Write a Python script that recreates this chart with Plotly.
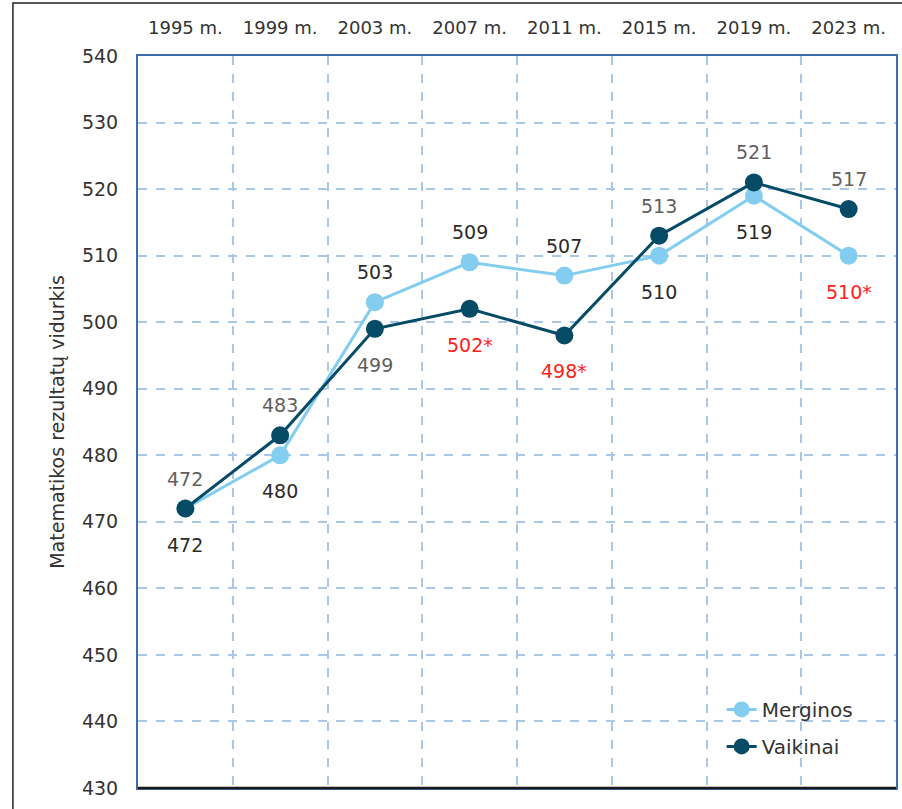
import plotly.graph_objects as go

years = ["1995 m.", "1999 m.", "2003 m.", "2007 m.", "2011 m.", "2015 m.", "2019 m.", "2023 m."]
merginos = [472, 480, 503, 509, 507, 510, 519, 510]
vaikinai = [472, 483, 499, 502, 498, 513, 521, 517]
merginos_sig = [False, False, False, False, False, False, False, True]
vaikinai_sig = [False, False, False, True, True, False, False, False]
y_ticks = list(range(430, 541, 10))

C_M = "#82cdf0"
C_V = "#054b66"
FONT = "DejaVu Sans"

fig = go.Figure()
fig.add_trace(go.Scatter(x=years, y=merginos, name="Merginos", mode="lines+markers", legendgroup="m",
                         line=dict(color=C_M, width=3), marker=dict(color=C_M, size=18)))
fig.add_trace(go.Scatter(x=years, y=vaikinai, name="Vaikinai", mode="lines+markers", legendgroup="v",
                         line=dict(color=C_V, width=3), marker=dict(color=C_V, size=18)))

for i, yr in enumerate(years):
    m, v = merginos[i], vaikinai[i]
    v_above = v >= m
    for val, sig, above, base in [(v, vaikinai_sig[i], v_above, "#5f5f5f"),
                                  (m, merginos_sig[i], not v_above, "#2a2a2a")]:
        fig.add_annotation(x=yr, y=val, text=f"{val}*" if sig else str(val),
                           showarrow=False, yshift=30 if above else -36,
                           font=dict(family=FONT, size=19, color="#ff2020" if sig else base))

# outer frame
fig.add_shape(type="rect", xref="paper", yref="paper", x0=-0.165, x1=1.03, y0=-0.1, y1=1.0725,
              line=dict(color="#222222", width=1.5), layer="below")
# bottom axis line (dark)
fig.add_shape(type="line", xref="paper", yref="paper", x0=0, x1=1, y0=0, y1=0,
              line=dict(color="#1a1a1a", width=2.5))

fig.update_layout(
    width=902, height=809,
    margin=dict(l=138, r=6, t=56, b=21, autoexpand=False),
    paper_bgcolor="white", plot_bgcolor="white",
    font=dict(family=FONT, color="#404040"),
    legend=dict(x=0.77, y=0.134, xanchor="left", yanchor="top", bgcolor="rgba(0,0,0,0)",
                tracegroupgap=8,
                font=dict(family=FONT, size=20, color="#333333")),
    showlegend=True,
)
fig.update_xaxes(type="category", side="top", tickson="boundaries", range=[-0.5, 7.5],
                 showgrid=True, gridcolor="#a9c8e8", griddash="dash", gridwidth=1.5,
                 showline=True, linecolor="#3d6eab", linewidth=2, mirror=True, automargin=False,
                 ticks="", tickfont=dict(family=FONT, size=18, color="#333333"), ticklabelstandoff=13)
fig.update_yaxes(range=[430, 540], tickvals=y_ticks, showgrid=True, gridcolor="#a9c8e8",
                 griddash="dash", gridwidth=1.5, zeroline=False, automargin=False,
                 showline=True, linecolor="#3d6eab", linewidth=2, mirror=True,
                 ticks="", tickfont=dict(family=FONT, size=19, color="#333333"), ticklabelstandoff=14,
                 title=dict(text="Matematikos rezultatų vidurkis", standoff=12,
                            font=dict(family=FONT, size=19, color="#333333")))

fig.write_html("out.html", config={"displayModeBar": False},
               post_script="document.body.style.margin='0';")
